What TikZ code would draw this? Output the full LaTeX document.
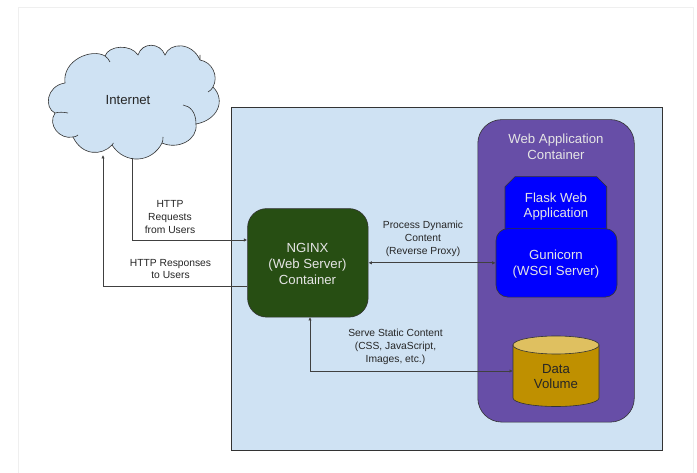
\documentclass[tikz,border=0pt]{standalone}
\usepackage{fontspec}
\setmainfont{Liberation Sans}
\usetikzlibrary{arrows.meta}
\definecolor{pagegray}{HTML}{EFEFEF}
\definecolor{lightblue}{HTML}{CFE2F3}
\definecolor{purplebox}{HTML}{674EA7}
\definecolor{bluebox}{HTML}{0000FF}
\definecolor{greenbox}{HTML}{274E13}
\definecolor{goldbox}{HTML}{BF9000}
\definecolor{goldtop}{HTML}{DFC060}
\tikzset{
  x=1pt,y=-1pt,
  link/.style={draw=black!75!white,line width=0.7pt},
  outline/.style={draw=black!80,line width=0.6pt},
  tip/.style={-{Latex[length=3.5pt,width=3.5pt]}},
  tips/.style={{Latex[length=3.5pt,width=3.5pt]}-{Latex[length=3.5pt,width=3.5pt]}},
  lab/.style={align=center,font=\fontsize{10.3}{12.8}\selectfont,text=black!85,inner sep=0pt},
  wlab/.style={align=center,font=\fontsize{13.2}{15.7}\selectfont,text=white!90!black,inner sep=0pt},
  dlab/.style={align=center,font=\fontsize{13.2}{15.2}\selectfont,text=black!85,inner sep=0pt},
}
\begin{document}
\begin{tikzpicture}
\useasboundingbox (0,0) rectangle (697,473);
\fill[white] (0,0) rectangle (697,473);
\draw[pagegray,line width=0.8pt] (18,473) -- (18,7) -- (693,7) -- (693,473);
\node[outline,fill=lightblue,minimum width=430.5pt,minimum height=343pt,inner sep=0pt,anchor=north west] (host) at (231,107) {};
\path[outline,fill=lightblue]
  (65,83) .. controls (62,60) and (92,48) .. (105,56)
  .. controls (109,45) and (131,44) .. (138,55)
  .. controls (142,42) and (160,42) .. (165,55)
  .. controls (170,42) and (192,42) .. (200,60)
  .. controls (212,62) and (219,76) .. (213,87)
  .. controls (226,100) and (218,120) .. (196,124)
  .. controls (198,140) and (178,150) .. (162,143)
  .. controls (152,163) and (125,165) .. (112,145)
  .. controls (102,156) and (82,156) .. (73,137)
  .. controls (60,140) and (47,125) .. (55,113)
  .. controls (44,108) and (46,86) .. (65,83) -- cycle;
\draw[outline]
  (55,113) .. controls (59,112) and (63,112) .. (68,113)
  (73,137) .. controls (75,137) and (77,136) .. (78,135)
  (112,145) .. controls (113,144.500) and (113,144) .. (113.500,143)
  (162,143) .. controls (163,141) and (163,139) .. (163,137)
  (196,124) .. controls (196,112) and (190,106) .. (183,105)
  (213,87) .. controls (212,89) and (210,91) .. (208,92)
  (200,60) .. controls (200,58) and (200,57) .. (200,55)
  (105,56) .. controls (107,57) and (109,60) .. (110,62);
\node[dlab] (inet) at (128,100.500) {Internet};
\node[outline,fill=purplebox,rounded corners=24pt,minimum width=156.500pt,minimum height=302.500pt,inner sep=0pt,anchor=north west] (webapp) at (477.500,119.300) {};
\node[wlab] (webtxt) at (556,147) {Web Application\\Container};
\path[outline,fill=bluebox] (515,176.700) -- (596.700,176.700) -- (606.700,186.700) -- (606.700,240) -- (505,240) -- (505,186.700) -- cycle;
\node[wlab] (flask) at (556,206.500) {Flask Web\\Application};
\node[outline,fill=bluebox,rounded corners=12pt,minimum width=121pt,minimum height=68.500pt,inner sep=0pt,anchor=north west] (gunicorn) at (495.700,228.300) {};
\node[wlab] (gunitxt) at (556,264) {Gunicorn\\(WSGI Server)};
\path[outline,fill=goldbox] (513,345) -- (513,398) arc[x radius=43,y radius=8.500,start angle=180,end angle=0] -- (599,345) -- cycle;
\path[outline,fill=goldtop] (556,345) ellipse[x radius=43,y radius=9];
\node[dlab] (data) at (556,376.500) {Data\\Volume};
\node[outline,fill=greenbox,rounded corners=19pt,minimum width=120.500pt,minimum height=108.500pt,inner sep=0pt,anchor=north west] (nginx) at (247.300,208.300) {};
\node[wlab] (nginxtxt) at (307.500,264) {NGINX\\(Web Server)\\Container};
\coordinate (reqtop) at (132,158);
\coordinate (reqbend) at (132,240);
\coordinate (resptop) at (103,155);
\coordinate (respbend) at (103,286);
\coordinate (stbend) at (310,371);
\coordinate (sttop) at (310,317);
\coordinate (stend) at (513,371);
\draw[link,tip] (reqtop) -- (reqbend) -- (nginx.west |- reqbend);
\draw[link,tip] (nginx.west |- respbend) -- (respbend) -- (resptop);
\draw[link,tips] (nginx.east |- gunicorn.west) -- (gunicorn.west);
\draw[link,tips] (sttop) -- (stbend) -- (stend);
\node[lab] (l1) at (170,216.800) {HTTP\\Requests\\from Users};
\node[lab] (l2) at (170.500,269) {HTTP Responses\\to Users};
\node[lab] (l3) at (423,238.800) {Process Dynamic\\Content\\(Reverse Proxy)};
\node[lab] (l4) at (395.500,347) {Serve Static Content\\(CSS, JavaScript,\\Images, etc.)};
\end{tikzpicture}
\end{document}
